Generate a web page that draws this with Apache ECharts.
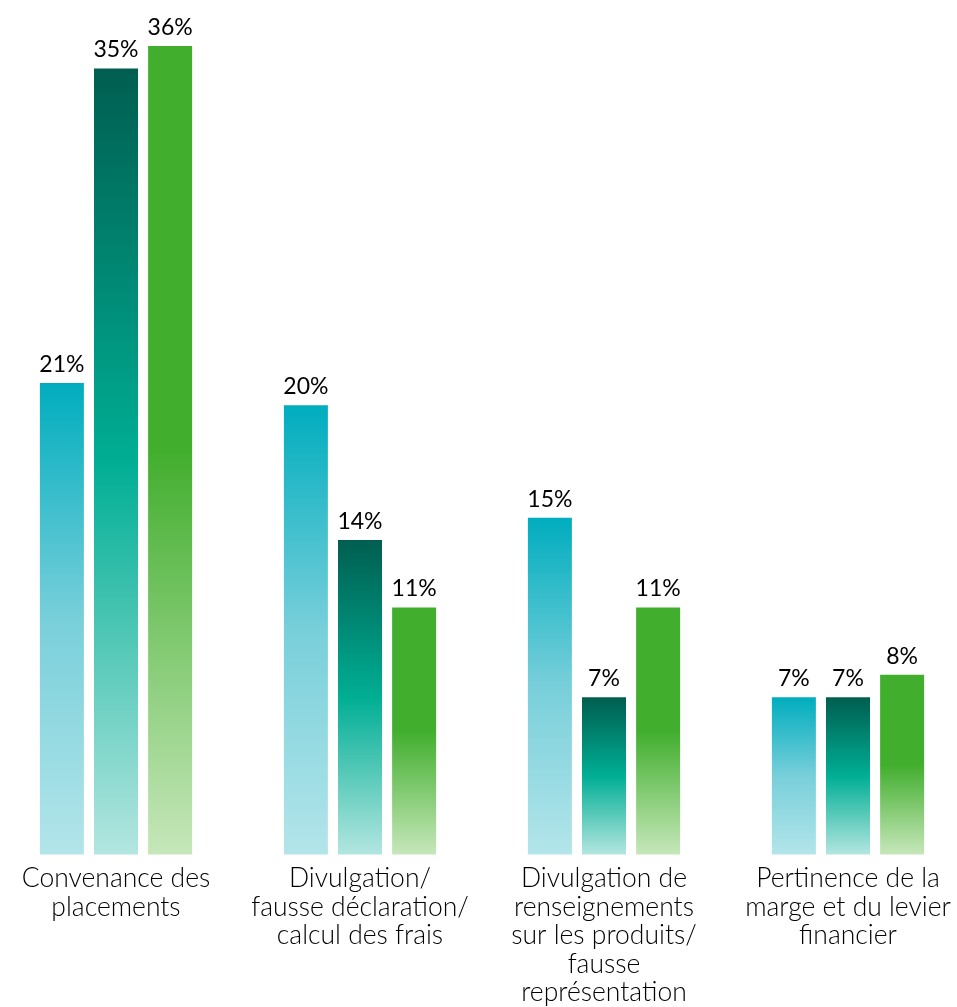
<!DOCTYPE html>
<html>
<head>
<meta charset="utf-8">
<script src="https://cdn.jsdelivr.net/npm/echarts@6/dist/echarts.min.js"></script>
<style>
  html, body { margin: 0; padding: 0; background: #fff; overflow: hidden; }
  #chart { position: absolute; left: -6px; top: 0; width: 976px; height: 1007px; }
</style>
</head>
<body>
<div id="chart"></div>
<script>
// categories and values
var categories = [
  'Convenance des\nplacements',
  'Divulgation/\nfausse déclaration/\ncalcul des frais',
  'Divulgation de\nrenseignements\nsur les produits/\nfausse\nreprésentation',
  'Pertinence de la\nmarge et du levier\nfinancier'
]
var serieA = [21, 20, 15, 7]
var serieB = [35, 14, 7, 7]
var serieC = [36, 11, 11, 8]

function grad (stops) {
  return new echarts.graphic.LinearGradient(0, 0, 0, 1, stops.map(function (s) {
    return { offset: s[0], color: s[1] }
  }))
}

var colorA = grad([[0, '#00ADBE'], [0.5, '#78CFDA'], [1, '#B3E5EA']])
var colorB = grad([[0, '#005E50'], [0.5, '#00AE94'], [1, '#B3E6E0']])
var colorC = grad([[0, '#41AE2D'], [0.5, '#42AE2E'], [1, '#C6E7BA']])

var labelStyle = {
  show: true,
  position: 'top',
  distance: 7,
  formatter: '{c}%',
  color: '#000',
  fontSize: 23,
  fontFamily: 'Lato'
}

function makeSeries (name, data, color) {
  return {
    name: name,
    type: 'bar',
    data: data,
    barWidth: 44,
    barGap: '23%',
    itemStyle: { color: color },
    label: labelStyle
  }
}

var chart = echarts.init(document.getElementById('chart'))
chart.setOption({
  animation: false,
  grid: { left: 0, right: 0, top: 46, bottom: 151 },
  xAxis: {
    type: 'category',
    data: categories,
    axisLine: { show: false },
    axisTick: { show: false },
    axisLabel: {
      interval: 0,
      margin: 10,
      color: '#000',
      fontSize: 26.5,
      fontWeight: 300,
      lineHeight: 28.5,
      fontFamily: 'Lato'
    }
  },
  yAxis: {
    type: 'value',
    min: 0,
    max: 36,
    show: false,
    splitLine: { show: false }
  },
  series: [
    makeSeries('A', serieA, colorA),
    makeSeries('B', serieB, colorB),
    makeSeries('C', serieC, colorC)
  ]
})
</script>
</body>
</html>
